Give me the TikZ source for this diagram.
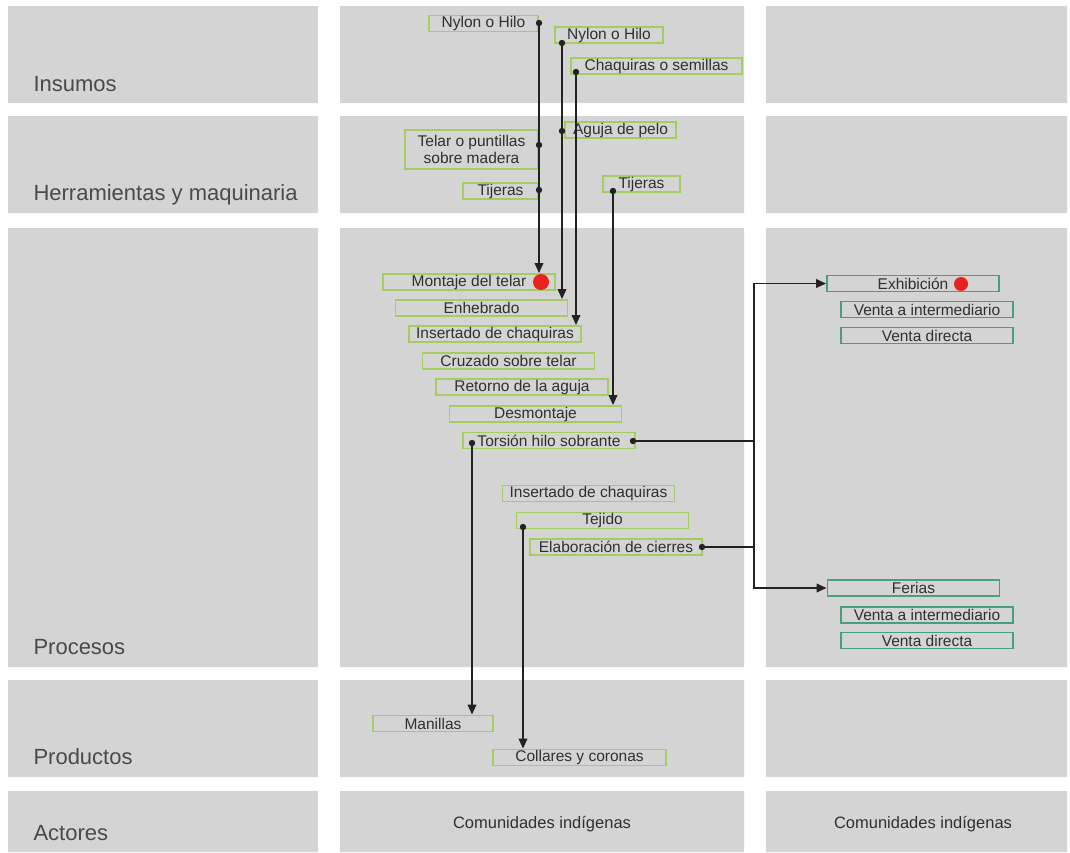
\documentclass[tikz,border=0pt]{standalone}
\usepackage{fontspec}
\setmainfont{Liberation Sans}
\usetikzlibrary{arrows.meta}
\definecolor{panelgray}{HTML}{D4D4D4}
\definecolor{labelgray}{HTML}{4A4A4A}
\definecolor{textgray}{HTML}{303030}
\definecolor{boxgreen}{HTML}{A3CC62}
\definecolor{boxteal}{HTML}{48A078}
\definecolor{dotred}{HTML}{E8231E}
\definecolor{linegray}{HTML}{222222}
\begin{document}
\begin{tikzpicture}[x=1pt,y=-1pt,
    rowlabel/.style={anchor=base west,text=labelgray,font=\fontsize{22}{25}\selectfont},
    actor/.style={text=textgray,font=\fontsize{16.5}{19}\selectfont},
    proc/.style={draw=boxgreen,line width=1.8pt,minimum width=#1,minimum height=16pt,
        inner sep=0pt,text=textgray,font=\fontsize{15.5}{17}\selectfont},
    proc/.default=172,
    sale/.style={proc=#1,draw=boxteal},
    sale/.default=172,
    conn/.style={draw=linegray,line width=1.9pt},
    flow/.style={conn,-{Triangle[length=10pt,width=8.5pt]}}]
    \useasboundingbox (0,0) rectangle (1070,852);

    % fondos
    \fill[panelgray] (8,6) rectangle (318,103) (340,6) rectangle (744,103) (766,6) rectangle (1067,103);
    \fill[panelgray] (8,116) rectangle (318,213) (340,116) rectangle (744,213) (766,116) rectangle (1067,213);
    \fill[panelgray] (8,228) rectangle (318,667) (340,228) rectangle (744,667) (766,228) rectangle (1067,667);
    \fill[panelgray] (8,680) rectangle (318,777) (340,680) rectangle (744,777) (766,680) rectangle (1067,777);
    \fill[panelgray] (8,791) rectangle (318,852) (340,791) rectangle (744,852) (766,791) rectangle (1067,852);

    \node[rowlabel] (lins) at (30,91) {Insumos};
    \node[rowlabel] (lher) at (30,200) {Herramientas y maquinaria};
    \node[rowlabel] (lpro) at (30,654) {Procesos};
    \node[rowlabel] (lprd) at (30,764) {Productos};
    \node[rowlabel] (lact) at (30,840) {Actores};

    % insumos y herramientas
    \node[proc=109] (nylA) at (483.5,23.5) {Nylon o Hilo};
    \node[proc=108] (nylB) at (609,35) {Nylon o Hilo};
    \node[proc=171] (chaq) at (656.5,66) {Chaquiras o semillas};
    \node[proc=111] (aguja) at (620.5,130) {Aguja de pelo};
    \node[proc=133,minimum height=39pt,align=center] (telar) at (471.5,149.5) {Telar o puntillas\\sobre madera};
    \node[proc=75] (tijA) at (500.5,191) {Tijeras};
    \node[proc=77] (tijB) at (641.5,184) {Tijeras};

    % procesos
    \node[proc] (mont) at (469,282) {Montaje del telar};
    \node[proc] (enhe) at (481.5,308) {Enhebrado};
    \node[proc] (insA) at (495,334) {Insertado de chaquiras};
    \node[proc] (cruz) at (508.5,361) {Cruzado sobre telar};
    \node[proc] (reto) at (522,387) {Retorno de la aguja};
    \node[proc] (desm) at (535.5,414) {Desmontaje};
    \node[proc] (tors) at (549,440.5) {Torsión hilo sobrante};

    \node[proc] (insB) at (588.5,493.5) {Insertado de chaquiras};
    \node[proc] (teji) at (602.5,520.5) {Tejido};
    \node[proc] (elab) at (616,547) {Elaboración de cierres};

    % productos
    \node[proc=120] (man) at (433,723.5) {Manillas};
    \node[proc=173] (coll) at (579.5,757.5) {Collares y coronas};

    % comercializacion
    \node[sale] (exh) at (913,283.5) {Exhibición};
    \node[sale] (vinA) at (927,309.5) {Venta a intermediario};
    \node[sale] (vdA) at (927,335.5) {Venta directa};
    \node[sale] (fer) at (913.5,588) {Ferias};
    \node[sale] (vinB) at (927,615) {Venta a intermediario};
    \node[sale] (vdB) at (927,640.5) {Venta directa};

    \node[actor] (comA) at (542,824) {Comunidades indígenas};
    \node[actor] (comB) at (923,824) {Comunidades indígenas};

    % puntos de salida
    \coordinate (dNA) at (539,23);
    \coordinate (dNB) at (562,43);
    \coordinate (dCh) at (576,72);
    \coordinate (dAg) at (562,131);
    \coordinate (dTe) at (539,145);
    \coordinate (dTA) at (539,190);
    \coordinate (dTB) at (613,191);
    \coordinate (dTR) at (633,441);
    \coordinate (dTL) at (472,443);
    \coordinate (dTj) at (523,527);
    \coordinate (dEl) at (702,547);
    \coordinate (jn) at (754,441);

    \draw[flow] (dNA) -- (dNA |- mont.north);
    \draw[flow] (dNB) -- (dNB |- enhe.north);
    \draw[flow] (dCh) -- (dCh |- insA.north);
    \draw[flow] (dTB) -- (dTB |- desm.north);
    \draw[flow] (dTL) -- (dTL |- man.north);
    \draw[flow] (dTj) -- (dTj |- coll.north);

    \draw[flow] (dTR) -- (jn) |- (exh.west);
    \draw[flow] (jn) |- (fer.west);
    \draw[conn] (dEl) -- (dEl -| jn);

    \foreach \d in {dNA,dNB,dCh,dAg,dTe,dTA,dTB,dTR,dTL,dTj,dEl}
        \fill[linegray] (\d) circle (3.2pt);

    \fill[dotred] (541,282) circle (8pt);
    \fill[dotred] (961,284) circle (7pt);
\end{tikzpicture}
\end{document}
